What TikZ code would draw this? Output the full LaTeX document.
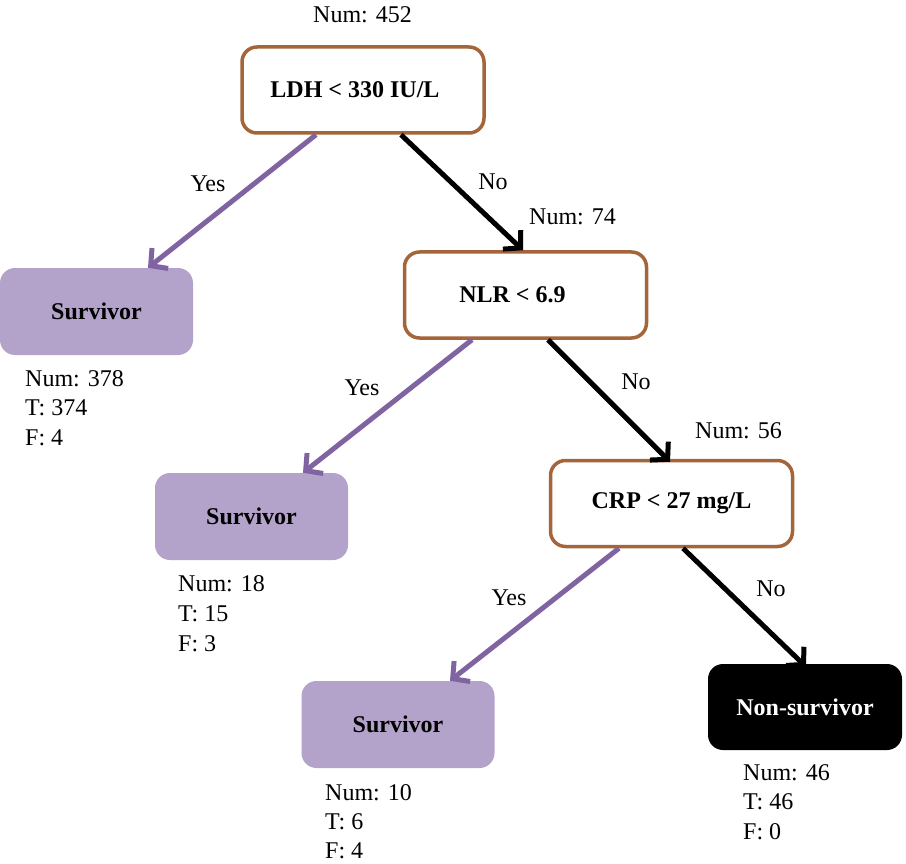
\documentclass[tikz,border=0pt]{standalone}
\usepackage{fontspec}
\setmainfont{Liberation Serif}
\usetikzlibrary{arrows.meta}
\definecolor{brownc}{HTML}{A5653A}
\definecolor{lavfill}{HTML}{B3A2C9}
\definecolor{purparrow}{HTML}{8064A2}
\begin{document}
\begin{tikzpicture}[x=1pt,y=-1pt,
  every node/.style={inner sep=0pt},
  decision/.style={draw=brownc,line width=3.5pt,fill=white,rounded corners=15pt,
    minimum width=242pt,minimum height=86pt,font=\fontsize{24}{28}\selectfont\bfseries},
  leaf/.style={fill=lavfill,rounded corners=15pt,minimum width=193pt,minimum height=87pt,
    font=\fontsize{24}{28}\selectfont\bfseries},
  leafdark/.style={fill=black,text=white,rounded corners=15pt,minimum width=194pt,minimum height=86pt,
    font=\fontsize{24}{28}\selectfont\bfseries},
  lbl/.style={font=\fontsize{24}{28}\selectfont,anchor=base west},
  elbl/.style={font=\fontsize{24}{28}\selectfont},
  yesarrow/.style={draw=purparrow,line width=5pt,-{Straight Barb[length=12pt,width=26pt]}},
  noarrow/.style={draw=black,line width=5pt,-{Straight Barb[length=12pt,width=26pt]}}]
\useasboundingbox (0,0) rectangle (906,864);

% decision nodes
\node[decision] (ldh) at (363,90) {\hspace*{-16pt}LDH < 330 IU/L};
\node[decision] (nlr) at (525.5,295) {\hspace*{-26pt}NLR < 6.9};
\node[decision] (crp) at (671.5,503.5) {CRP < 27 mg/L};

% leaves
\node[leaf] (s1) at (96.5,311.5) {Survivor};
\node[leaf] (s2) at (251.5,516.5) {Survivor};
\node[leaf] (s3) at (398,724.5) {Survivor};
\node[leafdark] (ns) at (805,707) {Non-survivor};

% counts
\node[lbl] (n452) at (313,23) {Num: 452};
\node[lbl] (n74) at (529,225) {Num: 74};
\node[lbl] (n56) at (695,438) {Num: 56};

\node[lbl] (s1a) at (25,386) {Num: 378};
\node[lbl] (s1b) at (25,415) {T: 374};
\node[lbl] (s1c) at (25,445) {F: 4};

\node[lbl] (s2a) at (178,591) {Num: 18};
\node[lbl] (s2b) at (178,621) {T: 15};
\node[lbl] (s2c) at (178,651) {F: 3};

\node[lbl] (s3a) at (325,800) {Num: 10};
\node[lbl] (s3b) at (325,829) {T: 6};
\node[lbl] (s3c) at (325,858) {F: 4};

\node[lbl] (nsa) at (743,780) {Num: 46};
\node[lbl] (nsb) at (743,809) {T: 46};
\node[lbl] (nsc) at (743,839) {F: 0};

% connectors
\draw[yesarrow] ([xshift=-47pt]ldh.south) -- ([xshift=51.5pt]s1.north);
\draw[noarrow] ([xshift=38pt]ldh.south) -- ([xshift=-2.5pt]nlr.north);
\draw[yesarrow] ([xshift=-53.5pt]nlr.south) -- ([xshift=51.5pt]s2.north);
\draw[noarrow] ([xshift=22.5pt]nlr.south) -- ([xshift=-1.5pt,yshift=-3pt]crp.north);
\draw[yesarrow] ([xshift=-52.5pt]crp.south) -- ([xshift=52pt]s3.north);
\draw[noarrow] ([xshift=11.5pt]crp.south) -- ([xshift=1pt,yshift=-3pt]ns.north);

% edge labels
\node[elbl] (y1) at (208,184) {Yes};
\node[elbl] (o1) at (493,182) {No};
\node[elbl] (y2) at (362,388) {Yes};
\node[elbl] (o2) at (636,382) {No};
\node[elbl] (y3) at (509,598) {Yes};
\node[elbl] (o3) at (771,589) {No};
\end{tikzpicture}
\end{document}
